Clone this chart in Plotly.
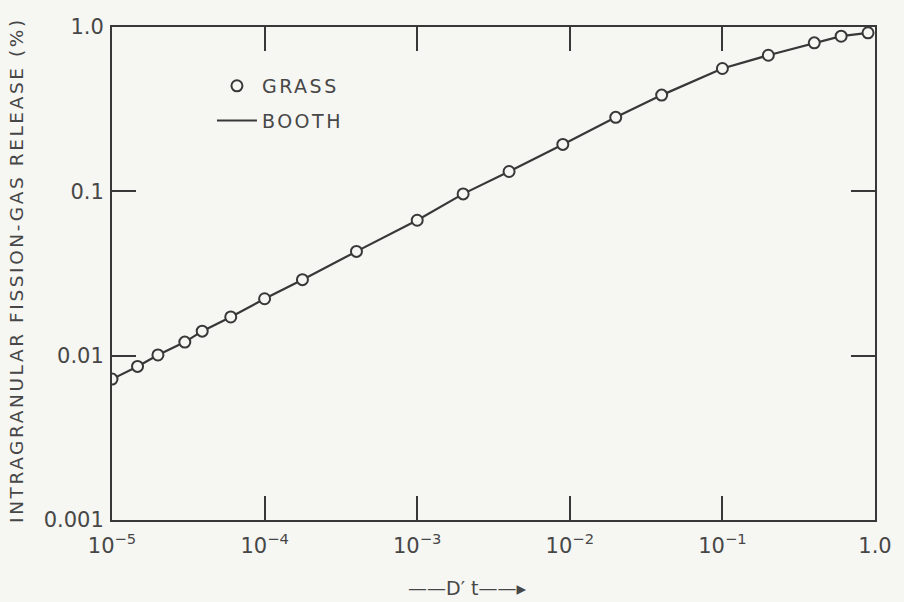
import plotly.graph_objects as go

# Dimensionless diffusion parameter D't and intragranular release (%)
dt_values = [1.0e-5, 1.47e-5, 2.0e-5, 3.0e-5, 3.9e-5, 6.0e-5, 1.0e-4, 1.77e-4,
             4.0e-4, 1.0e-3, 2.0e-3, 4.0e-3, 9.0e-3, 2.0e-2, 4.0e-2, 1.0e-1,
             2.0e-1, 4.0e-1, 6.0e-1, 9.0e-1]
grass_release = [0.0072, 0.0086, 0.0101, 0.0121, 0.0141, 0.0172, 0.0222, 0.029,
                 0.0431, 0.0667, 0.0965, 0.132, 0.193, 0.282, 0.385, 0.559,
                 0.673, 0.801, 0.879, 0.922]
booth_release = grass_release

x_tickvals = [1e-5, 1e-4, 1e-3, 1e-2, 1e-1, 1.0]
x_ticktext = ["10<sup>−5</sup>", "10<sup>−4</sup>", "10<sup>−3</sup>",
              "10<sup>−2</sup>", "10<sup>−1</sup>", "1.0"]
y_tickvals = [0.001, 0.01, 0.1, 1.0]
y_ticktext = ["0.001", "0.01", "0.1", "1.0"]

ink = "#383838"
text_ink = "#474747"
paper = "#f6f6f3"
font_family = "DejaVu Sans"


def spaced(s, px=2.5):
    """Wrap a label in a span with extra letter spacing (stencil lettering)."""
    return f'<span style="letter-spacing:{px}px">{s}</span>'


fig = go.Figure()

fig.add_trace(go.Scatter(
    x=dt_values, y=booth_release, mode="lines", name=spaced("BOOTH"),
    line=dict(color=ink, width=2.2), legendgroup="b", legendrank=2,
))
fig.add_trace(go.Scatter(
    x=dt_values, y=grass_release, mode="markers", name=spaced("GRASS"),
    marker=dict(symbol="circle", size=11, color=paper,
                line=dict(color=ink, width=2)),
    legendgroup="g", legendrank=1,
))

axis_common = dict(
    type="log", showgrid=False, zeroline=False,
    showline=True, linecolor=ink, linewidth=2, mirror="ticks",
    ticks="inside", ticklen=24, tickwidth=1.6, tickcolor=ink,
    tickfont=dict(family=font_family, size=21, color=text_ink),
)

fig.update_layout(
    width=904, height=602,
    margin=dict(l=112, r=18, t=27, b=82),
    paper_bgcolor=paper, plot_bgcolor=paper,
    font=dict(family=font_family, color=text_ink),
    xaxis=dict(axis_common, range=[-5, 0], tickvals=x_tickvals,
               ticktext=x_ticktext, ticklabelstandoff=6),
    yaxis=dict(axis_common, range=[-3, 0], tickvals=y_tickvals,
               ticktext=y_ticktext, ticklabelstandoff=2),
    legend=dict(x=0.131, y=0.919, xanchor="left", yanchor="top",
                bgcolor="rgba(0,0,0,0)", tracegroupgap=7,
                font=dict(family=font_family, size=19, color=text_ink),
                itemwidth=40),
    showlegend=True,
)

# Y-axis title, set close to the page edge
fig.add_annotation(
    text=spaced("INTRAGRANULAR FISSION-GAS RELEASE (%)", 2.6),
    xref="paper", yref="paper", x=-0.126, y=0.507,
    xanchor="center", yanchor="middle", textangle=-90, showarrow=False,
    font=dict(family=font_family, size=18.5, color=text_ink),
)

# X-axis label with direction arrow
fig.add_annotation(
    text="——D′ t——▸", xref="paper", yref="paper", x=0.465, y=-0.138,
    xanchor="center", yanchor="middle", showarrow=False,
    font=dict(family=font_family, size=19, color=text_ink),
)

fig.write_html("out.html")
